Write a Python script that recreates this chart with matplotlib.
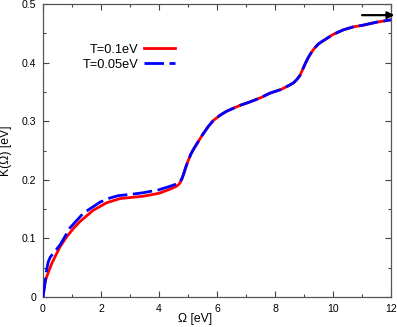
import matplotlib
matplotlib.use("Agg")
import matplotlib.pyplot as plt
from matplotlib.ticker import MultipleLocator

plt.rcParams["font.family"] = ["Liberation Sans", "DejaVu Sans"]

# T = 0.1 eV
omega_red = [0.0, 0.05, 0.13, 0.30, 0.59, 0.82, 1.05, 1.28, 1.73, 2.20, 2.66,
             3.46, 4.00, 4.38, 4.60, 4.70, 4.78, 4.85, 4.92, 5.00, 5.10, 5.20,
             5.30, 5.40, 5.53, 5.70, 5.87, 6.10, 6.33, 6.79, 7.14, 7.50, 7.83,
             8.20, 8.52, 8.65, 8.75, 8.86, 8.95, 9.05, 9.15, 9.25, 9.35, 9.50,
             9.65, 9.78, 10.00, 10.36, 10.70, 11.05, 11.50, 12.0]
k_red = [0.0, 0.022, 0.035, 0.057, 0.086, 0.103, 0.117, 0.129, 0.148, 0.161,
         0.168, 0.172, 0.177, 0.184, 0.189, 0.193, 0.200, 0.210, 0.221, 0.232,
         0.244, 0.253, 0.261, 0.269, 0.279, 0.291, 0.301, 0.310, 0.317, 0.327,
         0.333, 0.340, 0.348, 0.354, 0.362, 0.366, 0.371, 0.378, 0.388, 0.399,
         0.409, 0.417, 0.424, 0.432, 0.437, 0.441, 0.448, 0.456, 0.461, 0.464,
         0.469, 0.473]

# T = 0.05 eV
omega_blue = [0.0, 0.06, 0.12, 0.18, 0.25, 0.33, 0.59, 0.93, 1.39, 1.97, 2.31,
              2.60, 3.00, 3.46, 4.00, 4.38, 4.67, 4.78, 4.85, 4.92, 5.00, 5.10,
              5.20, 5.30, 5.40, 5.53, 5.70, 5.87, 6.10, 6.33, 6.79, 7.14, 7.50,
              7.83, 8.20, 8.52, 8.65, 8.75, 8.86, 8.95, 9.05, 9.15, 9.25, 9.35,
              9.50, 9.65, 9.78, 10.00, 10.36, 10.70, 11.05, 11.50, 12.0]
k_blue = [0.0, 0.020, 0.045, 0.060, 0.068, 0.073, 0.089, 0.118, 0.143, 0.162,
          0.169, 0.173, 0.175, 0.178, 0.183, 0.189, 0.194, 0.201, 0.210, 0.221,
          0.232, 0.244, 0.253, 0.261, 0.269, 0.279, 0.291, 0.301, 0.310, 0.317,
          0.327, 0.333, 0.340, 0.348, 0.354, 0.362, 0.366, 0.371, 0.378, 0.388,
          0.399, 0.409, 0.417, 0.424, 0.432, 0.437, 0.441, 0.448, 0.456, 0.461,
          0.464, 0.469, 0.473]

y_ticks = [0.0, 0.1, 0.2, 0.3, 0.4, 0.5]
y_tick_labels = ["0", "0.1", "0.2", "0.3", "0.4", "0.5"]

fig = plt.figure(figsize=(3.97, 3.27), dpi=100)
ax = fig.add_axes([0.1083, 0.0917, 0.8766, 0.896])

ax.plot(omega_red, k_red, color="#ff0000", lw=2.0, label="T=0.1eV", zorder=2)
ax.plot(omega_blue, k_blue, color="#0000ff", lw=2.0, dashes=(7, 2),
        label="T=0.05eV", zorder=3)

ax.annotate("", xy=(12.12, 0.481), xytext=(11.0, 0.481),
            arrowprops=dict(arrowstyle="-|>", color="black", lw=1.6,
                            mutation_scale=10, shrinkA=0, shrinkB=0),
            annotation_clip=False, zorder=5)

ax.set_xlim(0, 12)
ax.set_ylim(0, 0.5)
ax.xaxis.set_major_locator(MultipleLocator(2))
ax.xaxis.set_minor_locator(MultipleLocator(1))
ax.set_yticks(y_ticks)
ax.set_yticklabels(y_tick_labels)
ax.yaxis.set_minor_locator(MultipleLocator(0.05))
ax.tick_params(which="both", direction="in", top=True, right=True,
               labelsize=7.6, color="#444444")
ax.tick_params(which="major", length=4, width=0.8)
ax.tick_params(which="minor", length=2, width=0.8)
ax.tick_params(axis="x", pad=5)
ax.tick_params(axis="y", pad=5)
for s in ax.spines.values():
    s.set_color("#555555")
    s.set_linewidth(0.9)

ax.set_xlabel("Ω [eV]", fontsize=8.8)
ax.set_ylabel("K(Ω) [eV]", fontsize=8.8)
ax.xaxis.set_label_coords(0.437, -0.055)
ax.yaxis.set_label_coords(-0.09, 0.5)

ax.legend(loc="upper right", bbox_to_anchor=(0.379, 0.865), frameon=False,
          markerfirst=False, fontsize=9.2, handlelength=2.45,
          handletextpad=0.4, labelspacing=0.25, borderpad=0,
          borderaxespad=0)

fig.savefig("out.png", dpi=100)
